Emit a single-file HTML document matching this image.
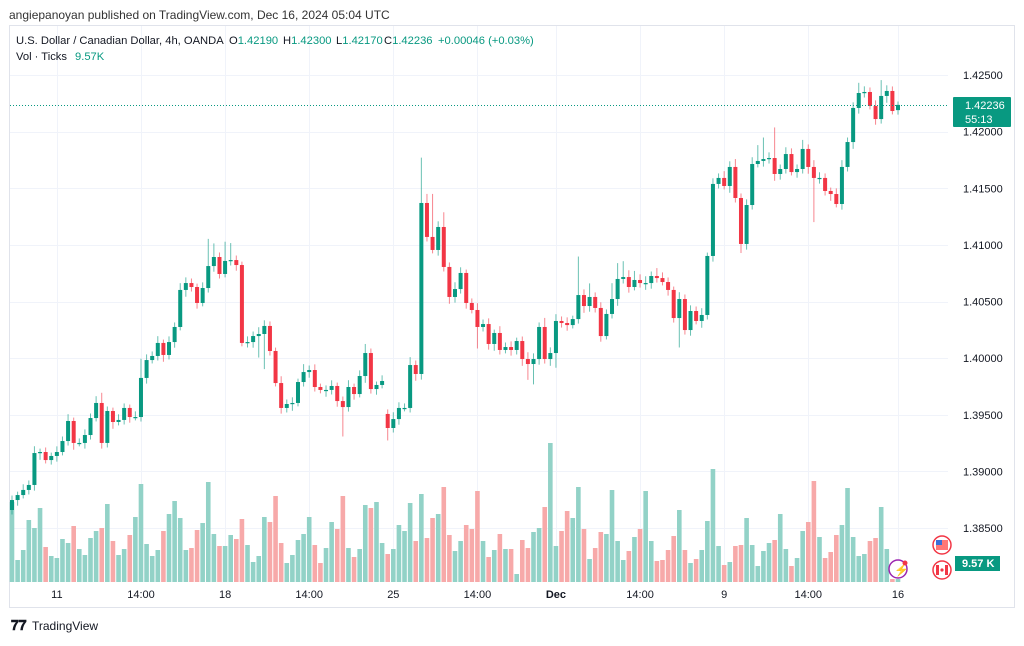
<!DOCTYPE html>
<html><head><meta charset="utf-8"><style>
html,body{margin:0;padding:0;background:#fff;}
body{width:1024px;height:641px;overflow:hidden;font-family:"Liberation Sans",sans-serif;}
svg text{font-family:"Liberation Sans",sans-serif;}
</style></head><body>
<svg id="chart" width="1024" height="641" viewBox="0 0 1024 641" xmlns="http://www.w3.org/2000/svg">
<text x="9" y="19" font-size="12" fill="#333">angiepanoyan published on TradingView.com, Dec 16, 2024 05:04 UTC</text>
<rect x="9.5" y="25.5" width="1005" height="582" fill="#fff" stroke="#e0e3eb"/>
<g id="grid"></g>
<g id="vol"></g>
<g id="candles"></g>
<line x1="10" x2="948" y1="105.5" y2="105.5" stroke="#089981" stroke-width="1" stroke-dasharray="1,2"/>
<g id="yaxis"></g>
<g id="xaxis"></g>
<g font-size="11.2">
<text x="16" y="44" fill="#131722">U.S. Dollar / Canadian Dollar, 4h, OANDA</text>
<text x="229" y="44" fill="#131722">O<tspan fill="#089981">1.42190</tspan></text>
<text x="283" y="44" fill="#131722">H<tspan fill="#089981">1.42300</tspan></text>
<text x="336" y="44" fill="#131722">L<tspan fill="#089981">1.42170</tspan></text>
<text x="384" y="44" fill="#131722">C<tspan fill="#089981">1.42236</tspan></text>
<text x="438" y="44" fill="#089981">+0.00046 (+0.03%)</text>
<text x="16" y="60" fill="#131722">Vol · Ticks</text>
<text x="75" y="60" fill="#089981">9.57K</text>
</g>
<g>
<rect x="953" y="97" width="58" height="30" fill="#089981" rx="1"/>
<text x="965" y="109" font-size="11" fill="#fff">1.42236</text>
<text x="965" y="123" font-size="11" fill="#fff">55:13</text>
</g>
<g>
<rect x="955" y="556" width="45" height="15" fill="#089981"/>
<text x="962" y="567" font-size="11" fill="#fff" font-weight="bold">9.57 K</text>
</g>
<g>
<circle cx="942" cy="545" r="9" fill="#fff" stroke="#f23645" stroke-width="1.5"/>
<rect x="936" y="540" width="12" height="10" fill="#f77"/><rect x="936" y="540" width="6" height="5" fill="#3a6fd8"/>
</g>
<g>
<circle cx="942" cy="570" r="9" fill="#fff" stroke="#f23645" stroke-width="1.5"/>
<rect x="939" y="565" width="6" height="10" fill="#fff"/><rect x="936" y="565" width="3" height="10" fill="#f23645"/><rect x="945" y="565" width="3" height="10" fill="#f23645"/><circle cx="942" cy="570" r="1.6" fill="#f23645"/>
</g>
<g>
<circle cx="898" cy="569" r="9" fill="#fff" stroke="#9c27b0" stroke-width="1.5"/>
<text x="894" y="574" font-size="12" fill="#9c27b0">⚡</text>
<circle cx="905" cy="563" r="2.5" fill="#f23645"/>
</g>
<g>
<text x="11" y="630" font-size="14" font-weight="bold" fill="#131722">𝟕𝟕</text>
<text x="32" y="630" font-size="12" fill="#131722">TradingView</text>
</g>
</svg>
<script>
const closes=[1.38747,1.38791,1.38836,1.38880,1.39162,1.39171,1.39100,1.39136,1.39171,1.39268,
1.39445,1.39251,1.39251,1.39321,1.39471,1.39604,1.39251,1.39533,1.39436,1.39454,
1.39560,1.39480,1.39480,1.39825,1.39983,1.40019,1.40134,1.40028,1.40142,1.40275,
1.40602,1.40663,1.40628,1.40487,1.40619,1.40813,1.40893,1.40743,1.40858,1.40866,
1.40822,1.40134,1.40142,1.40195,1.40213,1.40284,1.40063,1.39780,1.39560,1.39595,
1.39604,1.39789,1.39877,1.39895,1.39745,1.39719,1.39719,1.39754,1.39621,1.39568,
1.39745,1.39683,1.39842,1.40045,1.39727,1.39763,1.39798,1.39383,1.39462,1.39560,
1.39560,1.39939,1.39860,1.41370,1.41070,1.40955,1.41158,1.40805,1.40540,1.40610,
1.40752,1.40487,1.40425,1.40275,1.40301,1.40125,1.40222,1.40072,1.40098,1.40072,
1.40151,1.39992,1.39948,1.39992,1.40275,1.39992,1.40045,1.40328,1.40310,1.40292,
1.40345,1.40557,1.40460,1.40540,1.40443,1.40195,1.40390,1.40522,1.40699,1.40716,
1.40628,1.40690,1.40663,1.40663,1.40725,1.40707,1.40672,1.40602,1.40354,1.40522,
1.40248,1.40416,1.40328,1.40381,1.40902,1.41538,1.41591,1.41520,1.41688,1.41414,
1.41008,1.41352,1.41714,1.41741,1.41758,1.41767,1.41626,1.41670,1.41802,1.41643,
1.41670,1.41847,1.41688,1.41591,1.41591,1.41476,1.41449,1.41361,1.41688,1.41908,
1.42209,1.42341,1.42350,1.42226,1.42111,1.42315,1.42359,1.42182,1.42236];
const opens=[1.38659,1.38747,1.38791,1.38836,1.38880,1.39162,1.39171,1.39100,1.39136,1.39171,
1.39268,1.39445,1.39251,1.39251,1.39321,1.39471,1.39604,1.39251,1.39533,1.39436,
1.39454,1.39560,1.39480,1.39480,1.39825,1.39983,1.40019,1.40134,1.40028,1.40142,
1.40275,1.40602,1.40663,1.40628,1.40487,1.40619,1.40813,1.40893,1.40743,1.40858,
1.40866,1.40822,1.40134,1.40142,1.40195,1.40213,1.40284,1.40063,1.39780,1.39560,
1.39595,1.39604,1.39789,1.39877,1.39895,1.39745,1.39719,1.39719,1.39754,1.39621,
1.39568,1.39745,1.39683,1.39842,1.40045,1.39727,1.39763,1.39507,1.39383,1.39462,
1.39560,1.39560,1.39939,1.39860,1.41370,1.41070,1.40955,1.41158,1.40805,1.40540,
1.40610,1.40752,1.40487,1.40425,1.40275,1.40301,1.40125,1.40222,1.40072,1.40098,
1.40072,1.40151,1.39992,1.39948,1.39992,1.40275,1.39992,1.40045,1.40328,1.40310,
1.40292,1.40345,1.40557,1.40460,1.40540,1.40443,1.40195,1.40390,1.40522,1.40699,
1.40716,1.40628,1.40690,1.40663,1.40663,1.40725,1.40707,1.40672,1.40602,1.40354,
1.40522,1.40248,1.40416,1.40328,1.40381,1.40902,1.41538,1.41591,1.41520,1.41688,
1.41414,1.41008,1.41352,1.41714,1.41741,1.41758,1.41767,1.41626,1.41670,1.41802,
1.41643,1.41670,1.41847,1.41688,1.41591,1.41591,1.41476,1.41449,1.41361,1.41688,
1.41908,1.42209,1.42341,1.42350,1.42226,1.42111,1.42315,1.42359,1.42190];
// wick lengths in pips (0.0001)
const upWick=[4,3,5,4,6,3,4,3,5,4, 6,3,4,5,4,6,9,4,3,5, 4,3,5,17,5,4,6,3,5,4, 6,5,4,3,5,24,12,4,17,15,
4,3,5,4,6,5,4,3,6,4, 5,3,7,4,5,3,4,5,3,4, 6,3,5,8,4,3,5,4,6,5, 4,7,4,40,8,38,5,13,4,6,
5,3,4,6,4,5,3,6,4,5, 3,4,6,5,4,8,5,6,4,5, 3,34,5,12,4,5,4,14,14,14, 6,8,5,6,4,7,5,4,3,6,
4,5,4,6,3,5,4,6,5,7, 4,5,6,14,19,5,27,4,6,5, 4,8,4,6,5,4,3,5,6,4, 5,9,5,4,5,14,5,4,3];
const loWick=[4,5,3,4,5,6,3,4,5,3, 4,6,3,5,4,3,5,4,6,3, 4,5,3,4,5,3,4,6,4,5, 3,6,4,5,3,4,5,4,3,4,
5,3,4,5,19,31,4,3,5,4, 6,3,4,5,4,3,6,4,5,26, 4,5,3,6,4,5,3,11,4,5, 3,4,6,5,4,3,5,4,6,5,
4,5,3,19,4,5,6,4,3,5, 4,6,14,18,5,4,6,13,4,5, 3,4,6,5,4,5,3,4,6,4, 5,3,4,6,5,4,3,5,4,26,
4,5,3,6,4,5,4,3,6,4, 8,5,4,3,5,4,6,5,4,3, 5,4,6,39,5,4,6,3,5,4, 6,5,4,3,5,4,6,3,4];
const volumes=[240,66,96,186,162,222,105,78,72,129,117,168,99,81,132,153,162,234,123,81,
99,141,195,294,114,78,96,153,204,243,192,96,102,156,177,300,144,108,108,141,
129,189,111,60,78,195,180,258,117,57,81,126,144,195,111,57,102,180,159,258,
102,75,99,231,222,240,117,84,99,171,153,237,123,264,132,192,204,285,
141,93,123,171,159,273,123,75,96,144,99,99,24,126,102,150,162,225,417,108,
153,213,192,285,159,69,102,150,144,276,123,66,93,135,159,273,123,63,66,96,
138,216,96,57,69,96,183,339,108,51,60,108,111,192,111,48,93,117,126,204,
99,48,72,153,180,303,135,72,90,141,171,282,135,78,84,123,132,225,99,9,9];
const priceTicks=[1.425,1.42,1.415,1.41,1.405,1.40,1.395,1.39,1.385];
const timeLabels=["11","14:00","18","14:00","25","14:00","Dec","14:00","9","14:00","16"];
const timeIdx=[8,23,38,53,68,83,97,112,127,142,158];

const NS="http://www.w3.org/2000/svg";
const X0=12,STEP=886/158;
function xScale(i){return X0+i*STEP;}
function yScale(p){return 75+(1.425-p)*11325;}
function vScale(v){return v/3;}
const VBASE=582;
function mk(tag,attrs,parent){const e=document.createElementNS(NS,tag);for(const k in attrs)e.setAttribute(k,attrs[k]);parent.appendChild(e);return e;}

const grid=document.getElementById('grid');
priceTicks.forEach(p=>{const y=Math.round(yScale(p))+0.5;const l=mk('line',{x1:10,x2:948,y1:y,y2:y,stroke:'#f0f3fa'},grid);

});
timeIdx.forEach(i=>{const x=Math.round(xScale(i))+0.5;const l=mk('line',{x1:x,x2:x,y1:26,y2:582,stroke:'#f0f3fa'},grid);

});

const vol=document.getElementById('vol');
volumes.forEach((v,i)=>{const up=closes[i]>=opens[i];const h=vScale(v);
const r=mk('rect',{x:xScale(i)-2.3,y:VBASE-h,width:4.6,height:h,fill:up?'#92d2c7':'#f7a9a9'},vol);

});

const cg=document.getElementById('candles');
closes.forEach((c,i)=>{const o=opens[i];const up=c>=o;const col=up?'#089981':'#f23645';
const top=Math.max(o,c),bot=Math.min(o,c);const hi=top+upWick[i]*0.0001,lo=bot-loWick[i]*0.0001;
const x=xScale(i);
const w=mk('line',{x1:x,x2:x,y1:yScale(hi),y2:yScale(lo),stroke:col,'stroke-width':1,opacity:0.6},cg);


const yt=yScale(top),yb=yScale(bot);
const b=mk('rect',{x:x-2,y:yt,width:4,height:Math.max(1.2,yb-yt),fill:col},cg);

});

const ya=document.getElementById('yaxis');
priceTicks.forEach(p=>{const y=yScale(p);if(Math.abs(y-105)<14)return;
const t=mk('text',{x:963,y:y+4,'font-size':11,fill:'#131722'},ya);t.textContent=p.toFixed(5);

});
const xa=document.getElementById('xaxis');
timeLabels.forEach((s,k)=>{const t=mk('text',{x:xScale(timeIdx[k]),y:598,'font-size':11,fill:'#131722','text-anchor':'middle','font-weight':s==='Dec'?'bold':'normal'},xa);t.textContent=s;

});
</script>
</body></html>
